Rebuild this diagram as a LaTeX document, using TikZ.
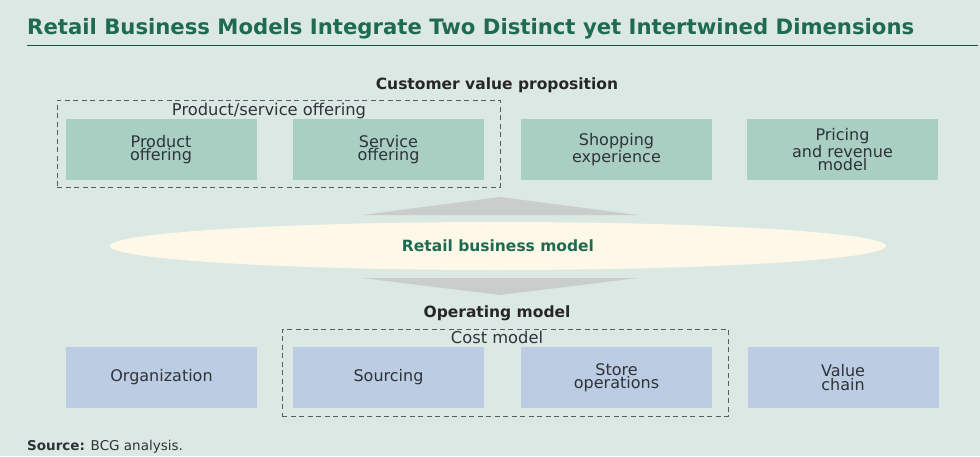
\documentclass[tikz,border=0pt]{standalone}
\usepackage{fontspec}
\setmainfont{DejaVu Sans}
\usetikzlibrary{shapes.geometric}
\definecolor{bg}{HTML}{DCE8E3}
\definecolor{titlegreen}{HTML}{1E6B4F}
\definecolor{boxgreen}{HTML}{A9CFC3}
\definecolor{boxblue}{HTML}{BCCCE2}
\definecolor{cream}{HTML}{FEF8E9}
\definecolor{wedge}{HTML}{C9CECD}
\definecolor{txt}{HTML}{2E3338}
\tikzset{
  x=1pt, y=-1pt,
  boxtext/.style={draw=none, minimum width=191pt, minimum height=61pt, inner sep=0pt, align=center, font=\fontsize{16}{12}\selectfont, text=txt},
  gbox/.style={boxtext, fill=boxgreen},
  bbox/.style={boxtext, fill=boxblue},
  dashbox/.style={draw=txt!80, dashed, dash pattern=on 5pt off 3.5pt, line width=0.8pt},
  heading/.style={font=\fontsize{15.5}{17}\selectfont\bfseries, text=black!85, inner sep=0pt},
  grouplabel/.style={font=\fontsize{16.3}{18}\selectfont, text=txt, inner sep=0pt},
}
\begin{document}
\begin{tikzpicture}
\useasboundingbox (0,0) rectangle (980,456);
\fill[bg] (0,0) rectangle (980,456);
% title
\node[anchor=west, inner sep=0pt, text=titlegreen, font=\fontsize{21.2}{24}\selectfont\bfseries] (title) at (27,29) {Retail Business Models Integrate Two Distinct yet Intertwined Dimensions};
\coordinate (tl1) at (27,45.5);
\coordinate (tl2) at (978,45.5);
\draw[titlegreen!80!black, line width=0.8pt] (tl1) -- (tl2);
% customer value proposition
\node[heading] (cvp) at (497,85) {Customer value proposition};
\node[dashbox, minimum width=443pt, minimum height=87pt, inner sep=0pt] (psbox) at (278.5,143.5) {};
\node[grouplabel] (pslabel) at (269,110.5) {Product/service offering};
\node[gbox] (prod) at (161,149.5) {Product\\offering};
\node[gbox] (serv) at (388.5,149.5) {Service\\offering};
\node[gbox] (shop) at (616.5,149.5) {Shopping\\experience};
\node[gbox] (price) at (842.5,149.5) {Pricing\\and revenue\\model};
% wedges
\coordinate (uw1) at (362,215);
\coordinate (uw2) at (638,215);
\coordinate (uwa) at (500,197);
\fill[wedge] (uw1) -- (uwa) -- (uw2) -- cycle;
\coordinate (dw1) at (362,278);
\coordinate (dw2) at (638,278);
\coordinate (dwa) at (500,295);
\fill[wedge] (dw1) -- (dwa) -- (dw2) -- cycle;
% ellipse
\node[ellipse, fill=cream, draw=none, minimum width=776pt, minimum height=48pt, inner sep=0pt] (ell) at (498,246) {};
\node[text=titlegreen, font=\fontsize{15.5}{17}\selectfont\bfseries, inner sep=0pt] (rbm) at (ell.center) {Retail business model};
% operating model
\node[heading] (om) at (497,313) {Operating model};
\node[dashbox, minimum width=446pt, minimum height=87pt, inner sep=0pt] (costbox) at (505,372.5) {};
\node[grouplabel] (costlabel) at (497,337.5) {Cost model};
\node[bbox] (org) at (161.5,377.5) {Organization};
\node[bbox] (src) at (388.5,377.5) {Sourcing};
\node[bbox] (store) at (616.5,377.5) {Store\\operations};
\node[bbox] (vc) at (843,377.5) {Value\\chain};
% source
\node[anchor=west, inner sep=0pt, font=\fontsize{13.5}{15}\selectfont, text=txt] (source) at (27,447) {\textbf{Source:} BCG analysis.};
\end{tikzpicture}
\end{document}
